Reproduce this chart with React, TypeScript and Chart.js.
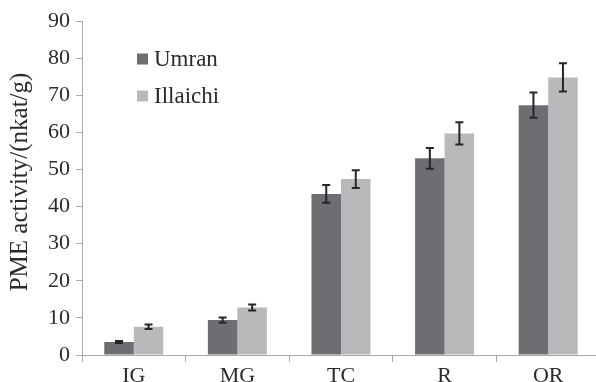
import React, { useEffect, useRef } from "react";
import { Chart, registerables } from "chart.js";

Chart.register(...registerables);

const categories = ["IG", "MG", "TC", "R", "OR"];
const seriesNames = ["Umran", "Illaichi"];
const umranValues = [3.5, 9.4, 43.4, 53.0, 67.3];
const umranErrors = [0.3, 0.7, 2.4, 2.8, 3.4];
const illaichiValues = [7.6, 12.8, 47.4, 59.7, 74.8];
const illaichiErrors = [0.6, 0.8, 2.4, 3.0, 3.8];
const yTicks = [0, 10, 20, 30, 40, 50, 60, 70, 80, 90];
const yTitle = "PME activity/(nkat/g)";

const colors = ["#6d6e71", "#b8b9bb"];
const FONT = "'Liberation Serif', 'Times New Roman', serif";
const TEXT = "#2b2b2b";
const AXIS = "#a8a8a8";

const errorBarPlugin = {
  id: "errorBars",
  afterDatasetsDraw(chart: any) {
    const ctx = chart.ctx;
    const yScale = chart.scales.y;
    const errs = [umranErrors, illaichiErrors];
    ctx.save();
    ctx.strokeStyle = "#262626";
    ctx.lineWidth = 2;
    chart.data.datasets.forEach((ds: any, di: number) => {
      const meta = chart.getDatasetMeta(di);
      meta.data.forEach((bar: any, i: number) => {
        const v = ds.data[i];
        const e = errs[di][i];
        const yt = yScale.getPixelForValue(v + e);
        const yb = yScale.getPixelForValue(v - e);
        const x = bar.x;
        ctx.beginPath();
        ctx.moveTo(x, yt);
        ctx.lineTo(x, yb);
        ctx.moveTo(x - 4, yt);
        ctx.lineTo(x + 4, yt);
        ctx.moveTo(x - 4, yb);
        ctx.lineTo(x + 4, yb);
        ctx.stroke();
      });
    });
    ctx.restore();
  },
};

const legendPlugin = {
  id: "insideLegend",
  afterDraw(chart: any) {
    const ctx = chart.ctx;
    ctx.save();
    ctx.font = `23px ${FONT}`;
    ctx.textBaseline = "middle";
    ctx.textAlign = "left";
    chart.data.datasets.forEach((ds: any, i: number) => {
      const cy = 59 + i * 37;
      ctx.fillStyle = ds.backgroundColor;
      ctx.fillRect(137, cy - 5.5, 11, 11);
      ctx.fillStyle = TEXT;
      ctx.fillText(ds.label, 154, cy + 1);
    });
    ctx.restore();
  },
};

const titlePlugin = {
  id: "yTitleDraw",
  afterDraw(chart: any) {
    const ctx = chart.ctx;
    ctx.save();
    ctx.translate(20, 182);
    ctx.rotate(-Math.PI / 2);
    ctx.font = `25px ${FONT}`;
    ctx.fillStyle = TEXT;
    ctx.textAlign = "center";
    ctx.textBaseline = "middle";
    ctx.fillText(yTitle, 0, 0);
    ctx.restore();
  },
};

export default function App() {
  const ref = useRef<HTMLCanvasElement>(null);
  useEffect(() => {
    if (!ref.current) return;
    const chart = new Chart(ref.current, {
      type: "bar",
      data: {
        labels: categories,
        datasets: [
          { label: seriesNames[0], data: umranValues, backgroundColor: colors[0] },
          { label: seriesNames[1], data: illaichiValues, backgroundColor: colors[1] },
        ],
      },
      options: {
        responsive: false,
        animation: false,
        layout: { padding: { top: 21, right: 0, left: 0, bottom: 0 } },
        plugins: { legend: { display: false }, tooltip: { enabled: false } },
        datasets: { bar: { categoryPercentage: 0.57, barPercentage: 1.0 } },
        scales: {
          x: {
            grid: { display: true, drawOnChartArea: false, tickLength: 7, color: AXIS, offset: true },
            border: { color: AXIS, width: 1 },
            ticks: { color: TEXT, font: { family: FONT, size: 22 }, padding: 1, maxRotation: 0 },
            afterFit: (s: any) => { s.height = 27; },
          },
          y: {
            min: 0,
            max: 90,
            afterBuildTicks: (s: any) => { s.ticks = yTicks.map((v) => ({ value: v })); },
            grid: { display: true, drawOnChartArea: false, tickLength: 6, color: AXIS },
            border: { color: AXIS, width: 1 },
            ticks: { color: TEXT, font: { family: FONT, size: 22 }, padding: 6 },
            title: { display: false, text: yTitle },
            afterFit: (s: any) => { s.width = 82; },
          },
        },
      },
      plugins: [errorBarPlugin, legendPlugin, titlePlugin],
    });
    return () => chart.destroy();
  }, []);
  return (
    <div style={{ position: "absolute", left: 0, top: 0, width: 596, height: 382, overflow: "hidden", background: "#fff" }}>
      <canvas ref={ref} width={600} height={382} style={{ width: 600, height: 382, display: "block" }} />
    </div>
  );
}
